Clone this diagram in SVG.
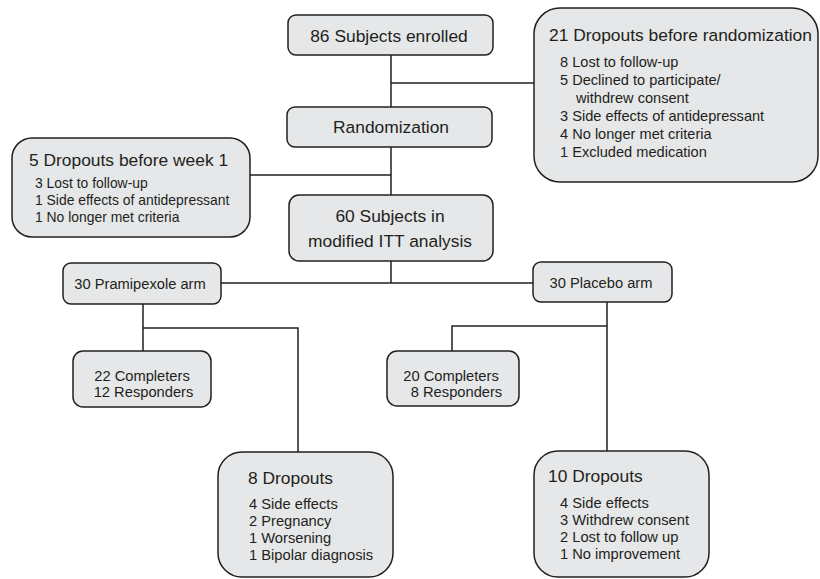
<svg xmlns="http://www.w3.org/2000/svg" width="820" height="579" viewBox="0 0 820 579">
<style>
.box{fill:#e6e7e8;stroke:#231f20;stroke-width:1.5}
.ln{fill:none;stroke:#231f20;stroke-width:1.5}
text{font-family:"Liberation Sans",Arial,sans-serif;fill:#231f20}
.h{font-size:17.4px}
.m{font-size:14.7px}
.s{font-size:14.6px}
.w{font-size:13.9px}
.c{text-anchor:middle}
</style>
<rect width="820" height="579" fill="#ffffff"/>
<g id="connectors">
<path class="ln" d="M391 55V107M391 83H535M391 147V195M391 175H250M391 261V283M221 283H533M143 304V351M143 328H298V452M607 302V451M607 326H452V351"/>
</g>
<g id="enrolled">
<rect class="box" x="288" y="15" width="205" height="40" rx="8"/>
<text class="h c" x="389" y="42">86 Subjects enrolled</text>
</g>
<g id="randomization">
<rect class="box" x="287" y="107" width="205" height="40" rx="8"/>
<text class="h c" x="391" y="133">Randomization</text>
</g>
<g id="dropouts-before-randomization">
<rect class="box" x="534" y="8" width="284" height="174" rx="26"/>
<text class="h" x="549" y="41">21 Dropouts before randomization</text>
<text class="s" x="560" y="67">8 Lost to follow-up</text>
<text class="s" x="560" y="85">5 Declined to participate/</text>
<text class="s" x="576" y="103">withdrew consent</text>
<text class="s" x="560" y="121">3 Side effects of antidepressant</text>
<text class="s" x="560" y="139">4 No longer met criteria</text>
<text class="s" x="560" y="157">1 Excluded medication</text>
</g>
<g id="dropouts-week1">
<rect class="box" x="12" y="138" width="238" height="99" rx="20"/>
<text class="h" x="29" y="166">5 Dropouts before week 1</text>
<text class="w" x="35" y="188">3 Lost to follow-up</text>
<text class="w" x="35" y="205">1 Side effects of antidepressant</text>
<text class="w" x="35" y="222">1 No longer met criteria</text>
</g>
<g id="itt">
<rect class="box" x="289" y="195" width="204" height="66" rx="10"/>
<text class="h c" x="390" y="222">60 Subjects in</text>
<text class="h c" x="390" y="247">modified ITT analysis</text>
</g>
<g id="pramipexole-arm">
<rect class="box" x="63" y="263" width="158" height="41" rx="8"/>
<text class="m c" x="140" y="289">30 Pramipexole arm</text>
</g>
<g id="placebo-arm">
<rect class="box" x="533" y="262" width="139" height="40" rx="8"/>
<text class="m c" x="601" y="288">30 Placebo arm</text>
</g>
<g id="pramipexole-completers">
<rect class="box" x="73" y="351" width="138" height="56" rx="10"/>
<text class="m c"><tspan x="142" y="381">22 Completers</tspan><tspan x="143.5" y="397">12 Responders</tspan></text>
</g>
<g id="placebo-completers">
<rect class="box" x="387" y="351" width="132" height="55" rx="10"/>
<text class="m c"><tspan x="451" y="381">20 Completers</tspan><tspan x="456.5" y="397">8 Responders</tspan></text>
</g>
<g id="pramipexole-dropouts">
<rect class="box" x="218" y="452" width="175" height="125" rx="24"/>
<text class="h" x="248" y="484">8 Dropouts</text>
<text class="m" x="249" y="509">4 Side effects</text>
<text class="m" x="249" y="526">2 Pregnancy</text>
<text class="m" x="249" y="543">1 Worsening</text>
<text class="m" x="249" y="560">1 Bipolar diagnosis</text>
</g>
<g id="placebo-dropouts">
<rect class="box" x="534" y="451" width="175" height="126" rx="24"/>
<text class="h" x="548" y="482">10 Dropouts</text>
<text class="m" x="560" y="508">4 Side effects</text>
<text class="m" x="560" y="525">3 Withdrew consent</text>
<text class="m" x="560" y="542">2 Lost to follow up</text>
<text class="m" x="560" y="559">1 No improvement</text>
</g>
</svg>
